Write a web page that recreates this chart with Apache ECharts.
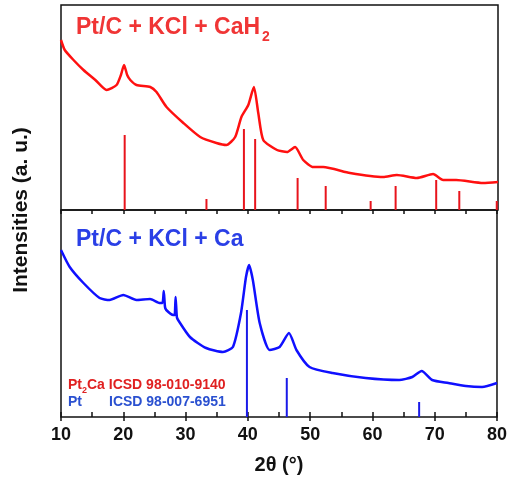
<!DOCTYPE html>
<html>
<head>
<meta charset="utf-8">
<script src="https://cdn.jsdelivr.net/npm/echarts@6/dist/echarts.min.js"></script>
<style>
  html, body { margin: 0; padding: 0; background: #fff; }
  #main { width: 510px; height: 486px; }
</style>
</head>
<body>
<div id="main"></div>
<script>
// 上图：Pt/C + KCl + CaH2 （红色）
const redTheta = [10.0, 10.6, 12.0, 13.6, 15.5, 17.3, 18.9, 19.6, 20.1, 20.6, 21.1, 22.1, 24.3, 25.3, 26.9, 29.6, 32.3, 34.9, 36.5, 37.9, 38.9, 40.0, 40.9, 41.6, 42.4, 44.6, 46.2, 47.5, 48.8, 50.4, 52.0, 56.3, 61.6, 63.8, 67.0, 69.6, 71.2, 73.3, 77.6, 80.0];
const redIntensity = [170, 160, 150, 140, 130, 120, 125, 135, 145, 135, 130, 125, 123, 118, 103, 87, 73, 67, 65, 73, 93, 105, 123, 97, 70, 60, 58, 63, 50, 43, 43, 37, 33, 35, 32, 36, 30, 30, 27, 28];

// 下图：Pt/C + KCl + Ca （蓝色）
const blueTheta = [10.0, 11.4, 13.6, 16.2, 17.8, 20.0, 22.1, 24.3, 25.9, 26.3, 26.5, 26.7, 26.9, 28.0, 28.25, 28.4, 28.6, 28.8, 30.7, 33.3, 36.0, 37.6, 38.9, 39.7, 40.2, 40.8, 41.9, 43.5, 45.1, 46.6, 47.8, 49.9, 53.6, 58.9, 64.3, 66.4, 67.9, 69.6, 72.2, 75.0, 77.6, 80.0];
const blueIntensity = [167, 150, 134, 119, 117, 122, 117, 118, 114, 114, 126, 110, 107, 102, 102, 120, 100, 97, 80, 69, 65, 70, 104, 140, 152, 137, 94, 67, 70, 84, 67, 50, 44, 39, 37, 40, 46, 37, 34, 31, 30, 34];

// 标准卡片峰位
const pt2caTheta = [20.2, 33.3, 39.3, 41.1, 47.9, 52.4, 59.6, 63.6, 70.1, 73.8, 79.8];
const pt2caHeight = [75, 11, 81, 71, 32, 24, 9, 24, 30, 19, 9];
const ptTheta = [39.85, 46.25, 67.5];
const ptHeight = [107, 39, 15];

const xTicks = [10, 20, 30, 40, 50, 60, 70, 80];

const RED = '#ff1010';
const BLUE = '#1010ff';
const FONT = 'Liberation Sans, Arial, sans-serif';

const zip = (a, b) => a.map((v, i) => [v, b[i]]);

const chart = echarts.init(document.getElementById('main'));

const option = {
  animation: false,
  grid: [
    { left: 61, top: 5, width: 437, height: 205, show: true, borderColor: '#111', borderWidth: 1.5 },
    { left: 61, top: 210, width: 437, height: 207, show: true, borderColor: '#111', borderWidth: 1.5 }
  ],
  xAxis: [
    // 上图
    { gridIndex: 0, type: 'value', min: 10, max: 80, interval: 10,
      axisLine: { show: false }, axisTick: { show: false }, axisLabel: { show: false }, splitLine: { show: false } },
    // 下图底轴（内刻度）
    { gridIndex: 1, type: 'value', min: 10, max: 80, interval: 5, position: 'bottom',
      axisLine: { show: false },
      axisTick: { show: true, inside: true, length: 5, lineStyle: { color: '#111', width: 1.5 } },
      axisLabel: {
        margin: 9, color: '#111', fontSize: 18, fontWeight: 'bold', fontFamily: FONT,
        formatter: v => (xTicks.includes(v) ? String(v) : '')
      },
      splitLine: { show: false },
      name: '2θ (°)', nameLocation: 'middle', nameGap: 38,
      nameTextStyle: { color: '#111', fontSize: 20, fontWeight: 'bold', fontFamily: FONT } },
    // 下图底轴主刻度外伸
    { gridIndex: 1, type: 'value', min: 10, max: 80, interval: 10, position: 'bottom',
      axisLine: { show: false },
      axisTick: { show: true, inside: false, length: 4, lineStyle: { color: '#111', width: 1.5 } },
      axisLabel: { show: false }, splitLine: { show: false } },
    // 下图顶轴（中间分隔线，内刻度）
    { gridIndex: 1, type: 'value', min: 10, max: 80, interval: 5, position: 'top',
      axisLine: { show: false },
      axisTick: { show: true, inside: true, length: 4, lineStyle: { color: '#111', width: 1.5 } },
      axisLabel: { show: false }, splitLine: { show: false } }
  ],
  yAxis: [
    { gridIndex: 0, type: 'value', min: 0, max: 205,
      axisLine: { show: false }, axisTick: { show: false }, axisLabel: { show: false }, splitLine: { show: false } },
    { gridIndex: 1, type: 'value', min: 0, max: 207,
      axisLine: { show: false }, axisTick: { show: false }, axisLabel: { show: false }, splitLine: { show: false } }
  ],
  graphic: [
    { type: 'text', left: 76, top: 16,
      style: { text: 'Pt/C + KCl + CaH', fill: '#f03535', font: 'bold 23px ' + FONT } },
    { type: 'text', left: 262, top: 30,
      style: { text: '2', fill: '#f03535', font: 'bold 14px ' + FONT } },
    { type: 'text', left: 76, top: 228,
      style: { text: 'Pt/C + KCl + Ca', fill: '#2a3fe6', font: 'bold 23px ' + FONT } },
    { type: 'text', left: 68, top: 378,
      style: { text: 'Pt', fill: '#e02020', font: 'bold 14px ' + FONT } },
    { type: 'text', left: 82, top: 386,
      style: { text: '2', fill: '#e02020', font: 'bold 9px ' + FONT } },
    { type: 'text', left: 87, top: 378,
      style: { text: 'Ca ICSD 98-010-9140', fill: '#e02020', font: 'bold 14px ' + FONT } },
    { type: 'text', left: 68, top: 395,
      style: { text: 'Pt', fill: '#2a50d0', font: 'bold 14px ' + FONT } },
    { type: 'text', left: 109, top: 395,
      style: { text: 'ICSD 98-007-6951', fill: '#2a50d0', font: 'bold 14px ' + FONT } },
    { type: 'text', x: 21, y: 210, rotation: Math.PI / 2,
      style: { text: 'Intensities (a. u.)', fill: '#111', font: 'bold 21px ' + FONT, align: 'center', verticalAlign: 'middle' } }
  ],
  series: [
    { type: 'bar', xAxisIndex: 0, yAxisIndex: 0, data: zip(pt2caTheta, pt2caHeight),
      barWidth: 2, itemStyle: { color: '#e8141c' }, z: 2 },
    { type: 'line', xAxisIndex: 0, yAxisIndex: 0, data: zip(redTheta, redIntensity),
      showSymbol: false, smooth: 0.2, lineStyle: { color: RED, width: 2.5 }, z: 3 },
    { type: 'bar', xAxisIndex: 1, yAxisIndex: 1, data: zip(ptTheta, ptHeight),
      barWidth: 2, itemStyle: { color: '#1a1ae8' }, z: 2 },
    { type: 'line', xAxisIndex: 1, yAxisIndex: 1, data: zip(blueTheta, blueIntensity),
      showSymbol: false, smooth: 0.2, lineStyle: { color: BLUE, width: 2.5 }, z: 3 }
  ]
};

chart.setOption(option);
</script>
</body>
</html>
